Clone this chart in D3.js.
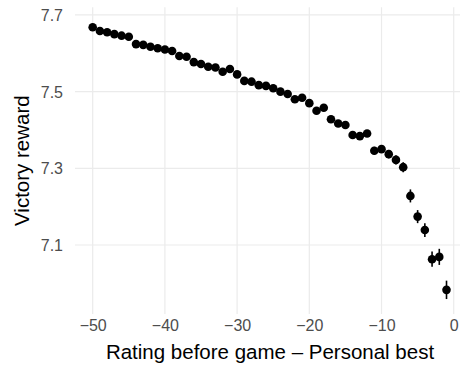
<!DOCTYPE html>
<html>
<head>
<meta charset="utf-8">
<script src="https://cdn.jsdelivr.net/npm/d3@7"></script>
<style>
  html, body { margin: 0; padding: 0; background: #fff; }
  svg { display: block; font-family: "Liberation Sans", Arial, Helvetica, sans-serif; }
</style>
</head>
<body>
<svg id="chart" width="460" height="365"></svg>
<script>
// ---- data ----
const ratingDiff = [-50,-49,-48,-47,-46,-45,-44,-43,-42,-41,-40,-39,-38,-37,-36,-35,-34,-33,-32,-31,-30,-29,-28,-27,-26,-25,-24,-23,-22,-21,-20,-19,-18,-17,-16,-15,-14,-13,-12,-11,-10,-9,-8,-7,-6,-5,-4,-3,-2,-1];
const reward = [7.668,7.658,7.655,7.650,7.646,7.643,7.624,7.622,7.617,7.613,7.610,7.606,7.593,7.591,7.577,7.572,7.565,7.563,7.552,7.559,7.545,7.528,7.526,7.517,7.515,7.509,7.500,7.494,7.480,7.484,7.470,7.450,7.458,7.428,7.417,7.413,7.387,7.384,7.391,7.346,7.350,7.337,7.322,7.303,7.228,7.174,7.139,7.063,7.069,6.983];
const rewardErr = [0.004,0.004,0.004,0.004,0.004,0.004,0.004,0.004,0.004,0.004,0.004,0.005,0.005,0.005,0.005,0.005,0.005,0.005,0.005,0.005,0.005,0.006,0.006,0.006,0.006,0.006,0.006,0.006,0.006,0.006,0.006,0.007,0.007,0.007,0.007,0.007,0.007,0.007,0.009,0.010,0.010,0.011,0.012,0.013,0.017,0.017,0.018,0.020,0.021,0.024];
const xTicks = [-50,-40,-30,-20,-10,0];
const yTicks = [7.1,7.3,7.5,7.7];
const xTitle = "Rating before game \u2013 Personal best";
const yTitle = "Victory reward";

const data = ratingDiff.map((x, i) => ({x, y: reward[i], e: rewardErr[i]}));

const svg = d3.select("#chart");
const panel = {left: 75, right: 464.2, top: 7.3, bottom: 314};

const x = d3.scaleLinear().domain([-52.45, 1.45]).range([panel.left, panel.right]);
const y = d3.scaleLinear().domain([6.92, 7.72]).range([panel.bottom, panel.top]);

const fmtMinus = d => (d < 0 ? "\u2212" + Math.abs(d) : String(d));

// gridlines
const grid = svg.append("g");
grid.selectAll("line.gx").data(xTicks).join("line")
  .attr("x1", d => x(d)).attr("x2", d => x(d))
  .attr("y1", panel.top).attr("y2", panel.bottom)
  .attr("stroke", "#EBEBEB").attr("stroke-width", 1.2);
grid.selectAll("line.gy").data(yTicks).join("line")
  .attr("y1", d => y(d)).attr("y2", d => y(d))
  .attr("x1", panel.left).attr("x2", panel.right)
  .attr("stroke", "#EBEBEB").attr("stroke-width", 1.2);

// axes (labels only, via d3 axes)
const xAxis = d3.axisBottom(x).tickValues(xTicks).tickFormat(fmtMinus).tickSize(0).tickPadding(0);
const gx = svg.append("g").attr("transform", `translate(0,${panel.bottom})`).call(xAxis);
gx.select(".domain").remove();
gx.selectAll("text").attr("fill", "#4D4D4D").attr("font-size", 16)
  .attr("font-family", "Liberation Sans, Arial, sans-serif").attr("dy", null).attr("y", 17);

const yAxis = d3.axisLeft(y).tickValues(yTicks).tickFormat(d3.format(".1f")).tickSize(0).tickPadding(0);
const gy = svg.append("g").attr("transform", `translate(63,0)`).call(yAxis);
gy.select(".domain").remove();
gy.selectAll("text").attr("fill", "#4D4D4D").attr("font-size", 16)
  .attr("font-family", "Liberation Sans, Arial, sans-serif").attr("x", 0).attr("dy", "0.35em");

// error bars
svg.append("g").selectAll("line").data(data).join("line")
  .attr("x1", d => x(d.x)).attr("x2", d => x(d.x))
  .attr("y1", d => y(d.y - d.e)).attr("y2", d => y(d.y + d.e))
  .attr("stroke", "#000").attr("stroke-width", 1.6);

// points
svg.append("g").selectAll("circle").data(data).join("circle")
  .attr("cx", d => x(d.x)).attr("cy", d => y(d.y)).attr("r", 4.3)
  .attr("fill", "#000");

// titles
svg.append("text").attr("x", 270).attr("y", 359)
  .attr("text-anchor", "middle").attr("font-size", 20.5).attr("fill", "#000")
  .text(xTitle);
svg.append("text").attr("transform", `translate(29,${(panel.top + panel.bottom) / 2}) rotate(-90)`)
  .attr("text-anchor", "middle").attr("font-size", 20.5).attr("fill", "#000")
  .text(yTitle);
</script>
</body>
</html>
